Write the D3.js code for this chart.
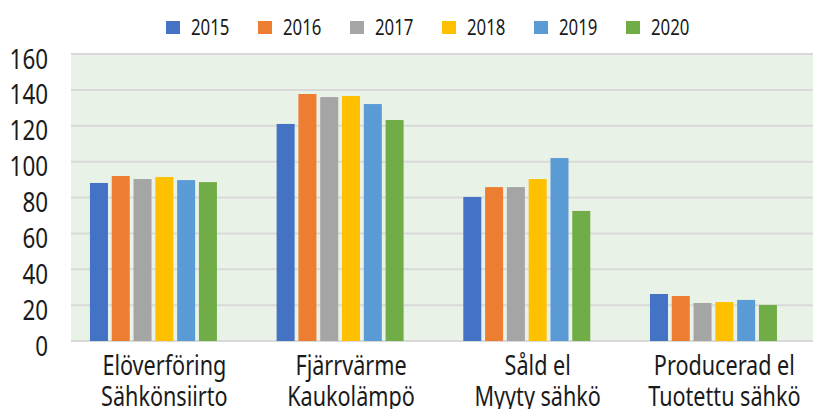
<!DOCTYPE html>
<html>
<head>
<meta charset="utf-8">
<script src="https://cdn.jsdelivr.net/npm/d3@7"></script>
<style>
  body { margin: 0; background: #fff; }
  svg { display: block; font-family: "Noto Sans", sans-serif; }
</style>
</head>
<body>
<div id="chart"></div>
<script>
// Data
const categories = [
    ['Elöverföring', 'Sähkönsiirto'],
    ['Fjärrvärme', 'Kaukolämpö'],
    ['Såld el', 'Myyty sähkö'],
    ['Producerad el', 'Tuotettu sähkö']
];
const years = ['2015', '2016', '2017', '2018', '2019', '2020'];
const values = {
    '2015': [88.1, 121.0, 80.3, 26.2],
    '2016': [92.0, 137.7, 85.8, 25.1],
    '2017': [90.3, 136.0, 85.8, 21.2],
    '2018': [91.4, 136.6, 90.3, 21.7],
    '2019': [89.7, 132.1, 102.0, 22.9],
    '2020': [88.6, 123.2, 72.5, 20.1]
};
const yTicks = [0, 20, 40, 60, 80, 100, 120, 140, 160];
const colors = ['#4472C4', '#ED7D31', '#A5A5A5', '#FFC000', '#5B9BD5', '#70AD47'];

const width = 813;
const height = 409;
const margin = { top: 54, left: 71, bottom: 341 };
const plotRight = 817.7; // the plot runs a little past the picture's edge
const squeeze = 0.8;     // the source uses a condensed face

const svg = d3.select('#chart')
    .append('svg')
    .attr('width', width)
    .attr('height', height);

const y = d3.scaleLinear()
    .domain([0, 160])
    .range([margin.bottom, margin.top]);

const x0 = d3.scaleBand()
    .domain(categories.map((c, i) => i))
    .range([margin.left, plotRight])
    .paddingInner(0.203)
    .paddingOuter(0.1015);

// each cluster has room for a seventh (empty) bar, as in the source
const x1 = d3.scaleBand()
    .domain(years.concat(['']))
    .range([0, x0.bandwidth()])
    .paddingInner(0.174);

const color = d3.scaleOrdinal().domain(years).range(colors);

// plot background
svg.append('rect')
    .attr('x', margin.left)
    .attr('y', y(160))
    .attr('width', width - margin.left)
    .attr('height', y(0) - y(160))
    .style('fill', '#e9f2e6');

// gridlines
svg.append('g')
    .selectAll('line')
    .data(yTicks)
    .join('line')
    .attr('x1', margin.left)
    .attr('x2', width)
    .attr('y1', d => y(d))
    .attr('y2', d => y(d))
    .style('stroke', '#d9d9d9')
    .style('stroke-width', 2);

// y labels
svg.append('g')
    .selectAll('text')
    .data(yTicks)
    .join('text')
    .attr('transform', d => `translate(48,${y(d) + 14.5}) scale(${squeeze},1)`)
    .attr('text-anchor', 'end')
    .style('font-size', '28px')
    .style('fill', '#1a1a1a')
    .text(d => d);

// bars
const groups = svg.append('g')
    .selectAll('g')
    .data(categories)
    .join('g')
    .attr('transform', (d, i) => `translate(${x0(i)},0)`);

groups.selectAll('rect')
    .data((d, i) => years.map(yr => ({ yr, v: values[yr][i] })))
    .join('rect')
    .attr('x', d => x1(d.yr))
    .attr('width', x1.bandwidth())
    .attr('y', d => y(d.v))
    .attr('height', d => y(0) - y(d.v))
    .style('fill', d => color(d.yr));

// category labels (centred on the full band)
const labels = svg.append('g')
    .selectAll('text')
    .data(categories)
    .join('text')
    .attr('transform', (d, i) => `translate(${x0(i) + x0.bandwidth() / 2},375) scale(${squeeze},1)`)
    .attr('text-anchor', 'middle')
    .style('font-size', '27px')
    .style('fill', '#1a1a1a');

labels.selectAll('tspan')
    .data(d => d)
    .join('tspan')
    .attr('x', 0)
    .attr('dy', (d, i) => i === 0 ? 0 : 31)
    .text(d => d);

// legend
const legend = svg.append('g')
    .selectAll('g')
    .data(years)
    .join('g')
    .attr('transform', (d, i) => `translate(${166 + i * 92},0)`);

legend.append('rect')
    .attr('x', 0)
    .attr('y', 21)
    .attr('width', 14)
    .attr('height', 13)
    .style('fill', d => color(d));

legend.append('text')
    .attr('transform', `translate(25,35) scale(${squeeze},1)`)
    .style('font-size', '21px')
    .style('fill', '#1a1a1a')
    .text(d => d);
</script>
</body>
</html>
